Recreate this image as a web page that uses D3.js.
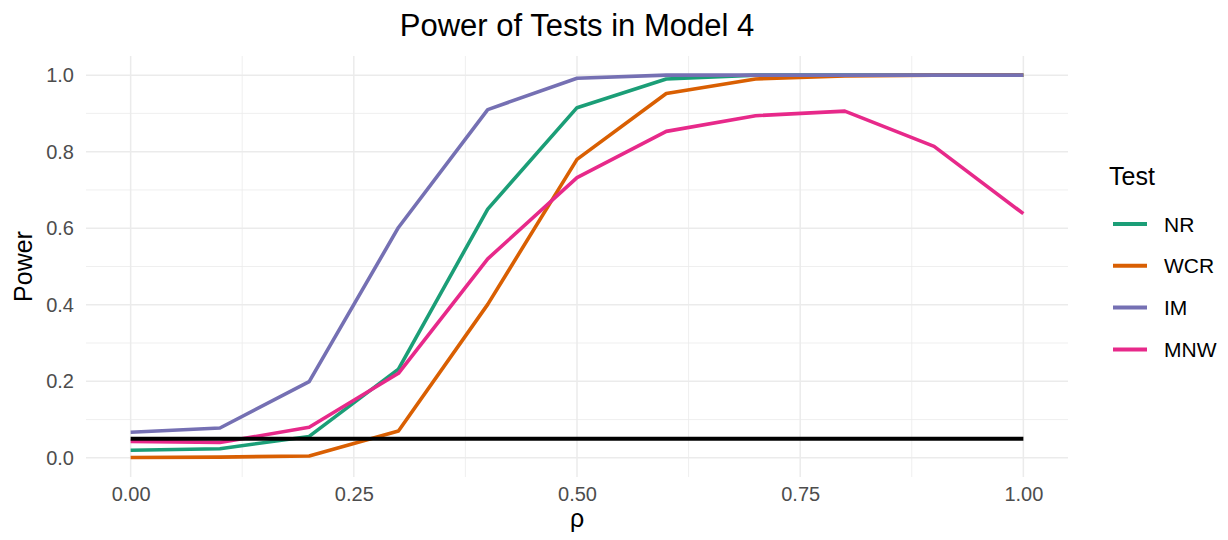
<!DOCTYPE html>
<html>
<head>
<meta charset="utf-8">
<script src="https://cdn.jsdelivr.net/npm/d3@7"></script>
<style>
  body { margin: 0; background: #fff; }
  text { font-family: "Liberation Sans", Arial, sans-serif; }
</style>
</head>
<body>
<div id="chart"></div>
<script>
// data
const rho = [0, 0.1, 0.2, 0.3, 0.4, 0.5, 0.6, 0.7, 0.8, 0.9, 1.0];
const nr  = [0.020, 0.024, 0.056, 0.232, 0.650, 0.915, 0.990, 1.000, 1.000, 1.000, 1.000];
const wcr = [0.001, 0.002, 0.005, 0.070, 0.401, 0.780, 0.952, 0.990, 0.998, 1.000, 1.000];
const im  = [0.067, 0.078, 0.199, 0.602, 0.910, 0.992, 1.000, 1.000, 1.000, 1.000, 1.000];
const mnw = [0.043, 0.040, 0.080, 0.221, 0.520, 0.732, 0.853, 0.894, 0.906, 0.814, 0.638];
const refRho = [0, 1];
const refLevel = [0.05, 0.05];
const testNames = ['NR', 'WCR', 'IM', 'MNW'];
const testColors = ['#1B9E77', '#D95F02', '#7570B3', '#E7298A'];
const xTicks = [0, 0.25, 0.5, 0.75, 1.0];
const xMinor = [0.125, 0.375, 0.625, 0.875];
const yTicks = [0, 0.2, 0.4, 0.6, 0.8, 1.0];
const yMinor = [0.1, 0.3, 0.5, 0.7, 0.9];

const width = 1228, height = 540;
const panel = { left: 86, right: 1068, top: 56, bottom: 477 };

const svg = d3.select('#chart').append('svg')
  .attr('width', width)
  .attr('height', height);

const x = d3.scaleLinear().domain([-0.05, 1.05]).range([panel.left, panel.right]);
const y = d3.scaleLinear().domain([-0.05, 1.05]).range([panel.bottom, panel.top]);

// grid
const grid = svg.append('g');
grid.selectAll('.ymin').data(yMinor).enter().append('line')
  .attr('x1', panel.left).attr('x2', panel.right)
  .attr('y1', d => y(d)).attr('y2', d => y(d))
  .attr('stroke', '#EBEBEB').attr('stroke-width', 0.8);
grid.selectAll('.xmin').data(xMinor).enter().append('line')
  .attr('y1', panel.top).attr('y2', panel.bottom)
  .attr('x1', d => x(d)).attr('x2', d => x(d))
  .attr('stroke', '#EBEBEB').attr('stroke-width', 0.8);
grid.selectAll('.ymaj').data(yTicks).enter().append('line')
  .attr('x1', panel.left).attr('x2', panel.right)
  .attr('y1', d => y(d)).attr('y2', d => y(d))
  .attr('stroke', '#EBEBEB').attr('stroke-width', 1.5);
grid.selectAll('.xmaj').data(xTicks).enter().append('line')
  .attr('y1', panel.top).attr('y2', panel.bottom)
  .attr('x1', d => x(d)).attr('x2', d => x(d))
  .attr('stroke', '#EBEBEB').attr('stroke-width', 1.5);

// axes (labels only, like theme_minimal)
const xAxis = d3.axisBottom(x).tickValues(xTicks).tickFormat(d3.format('.2f')).tickSize(0).tickPadding(10);
svg.append('g')
  .attr('transform', `translate(0, ${panel.bottom})`)
  .call(xAxis)
  .call(g => g.select('.domain').remove())
  .selectAll('text')
  .attr('fill', '#4D4D4D')
  .style('font-size', '20px')
  .style('font-family', '"Liberation Sans", Arial, sans-serif');

const yAxis = d3.axisLeft(y).tickValues(yTicks).tickFormat(d3.format('.1f')).tickSize(0).tickPadding(12);
svg.append('g')
  .attr('transform', `translate(${panel.left}, 0)`)
  .call(yAxis)
  .call(g => g.select('.domain').remove())
  .selectAll('text')
  .attr('fill', '#4D4D4D')
  .style('font-size', '20px')
  .style('font-family', '"Liberation Sans", Arial, sans-serif');

// series
const series = [nr, wcr, im, mnw];
const line = d3.line().x((d, i) => x(rho[i])).y(d => y(d));
series.forEach((vals, k) => {
  svg.append('path')
    .datum(vals)
    .attr('d', line)
    .attr('fill', 'none')
    .attr('stroke', testColors[k])
    .attr('stroke-width', 3.6)
    .attr('stroke-linejoin', 'round');
});

// nominal level
svg.append('path')
  .datum(refLevel)
  .attr('d', d3.line().x((d, i) => x(refRho[i])).y(d => y(d)))
  .attr('stroke', '#000')
  .attr('stroke-width', 4.2)
  .attr('fill', 'none');

// titles
const midX = (panel.left + panel.right) / 2;
svg.append('text')
  .attr('x', midX).attr('y', 36)
  .attr('text-anchor', 'middle')
  .style('font-size', '31px')
  .text('Power of Tests in Model 4');

svg.append('text')
  .attr('x', midX).attr('y', 527)
  .attr('text-anchor', 'middle')
  .style('font-size', '25px')
  .text('ρ');

svg.append('text')
  .attr('transform', `translate(32, ${(panel.top + panel.bottom) / 2}) rotate(-90)`)
  .attr('text-anchor', 'middle')
  .style('font-size', '25px')
  .text('Power');

// legend
const legend = svg.append('g').attr('transform', 'translate(1109, 0)');
legend.append('text')
  .attr('x', 0).attr('y', 185)
  .style('font-size', '25px')
  .text('Test');

const rows = legend.selectAll('.row').data(testNames).enter().append('g')
  .attr('transform', (d, i) => `translate(0, ${224 + i * 41.8})`);
rows.append('line')
  .attr('x1', 4).attr('x2', 38)
  .attr('y1', 0).attr('y2', 0)
  .attr('stroke', (d, i) => testColors[i])
  .attr('stroke-width', 4);
rows.append('text')
  .attr('x', 55).attr('y', 7.5)
  .style('font-size', '21px')
  .text(d => d);
</script>
</body>
</html>
